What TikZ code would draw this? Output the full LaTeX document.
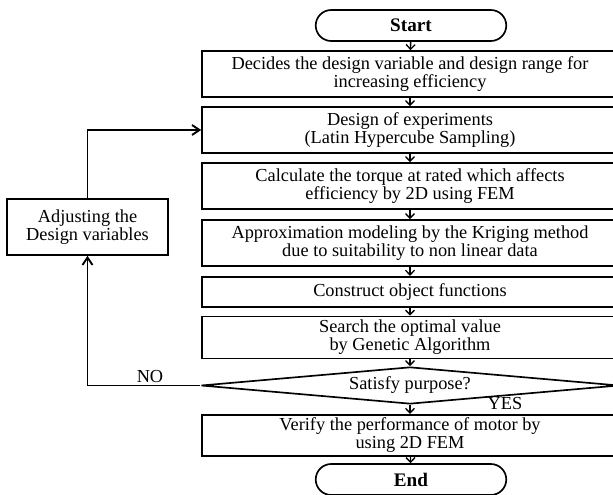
\documentclass[tikz,border=0pt]{standalone}
\usepackage{fontspec}
\setmainfont{Liberation Serif}
\usetikzlibrary{arrows.meta,shapes.geometric,shapes.misc}

\tikzset{
	stepbox/.style={draw,line width=1pt,rectangle,align=center,minimum width=249.6pt,inner sep=2pt},
	termbox/.style={draw,line width=1pt,rounded rectangle,minimum width=121pt,minimum height=18.6pt,font=\fontsize{11.5}{10.8}\selectfont\bfseries},
	testbox/.style={draw,line width=1pt,diamond,aspect=11.3,inner sep=0pt,minimum width=250.8pt,minimum height=22.2pt},
	arr/.style={line width=0.8pt,-{Straight Barb[length=2.8pt,width=5.4pt]}},
	loop/.style={line width=1.1pt,-{Straight Barb[length=4.5pt,width=6pt]}},
}

\begin{document}
\begin{tikzpicture}[x=0.6pt,y=-0.6pt,font=\fontsize{11}{10.8}\selectfont]
	\useasboundingbox (0,0) rectangle (613,495);
	
	% main column
	\node[termbox] (Start) at (411,25.5) {Start};
	\node[stepbox,minimum height=27.6pt] (Decide) at (410,74) {Decides the design variable and design range for\\ increasing efficiency};
	\node[stepbox,minimum height=27.6pt] (Doe) at (410,130) {Design of experiments\\ (Latin Hypercube Sampling)};
	\node[stepbox,minimum height=27.6pt] (Calc) at (410,186) {Calculate the torque at rated which affects\\ efficiency by 2D using FEM};
	\node[stepbox,minimum height=27.6pt] (Approx) at (410,243) {Approximation modeling by the Kriging method\\ due to suitability to non linear data};
	\node[stepbox,minimum height=18pt] (Construct) at (410,291.7) {Construct object functions};
	\node[stepbox,minimum height=25.2pt] (Search) at (410,337.5) {Search the optimal value\\ by Genetic Algorithm};
	\node[testbox] (Satisfy) at (410,385.5) {Satisfy purpose?};
	\node[stepbox,minimum height=24.6pt] (Verify) at (410,435.5) {Verify the performance of motor by\\ using 2D FEM};
	\node[termbox] (End) at (411,479.5) {End};
	
	% feedback box
	\node[draw,line width=1pt,align=center,minimum width=96.6pt,minimum height=33.6pt] (Adjust) at (87.5,227) {Adjusting the\\ Design variables};
	
	\draw[arr] (Start) -- (Decide);
	\draw[arr] (Decide) -- (Doe);
	\draw[arr] (Doe) -- (Calc);
	\draw[arr] (Calc) -- (Approx);
	\draw[arr] (Approx) -- (Construct);
	\draw[arr] (Construct) -- (Search);
	\draw[arr] (Search) -- (Satisfy);
	\draw[arr] (Satisfy) -- (Verify);
	\draw[arr] (Verify) -- (End);
	
	\draw[loop] (Satisfy.west) -| (Adjust.south);% NO branch
	\draw[loop] (Adjust.north) |- (Doe.west);
	\node at (150,377) {NO};
	\node at (505,404) {YES};
\end{tikzpicture}
\end{document}
